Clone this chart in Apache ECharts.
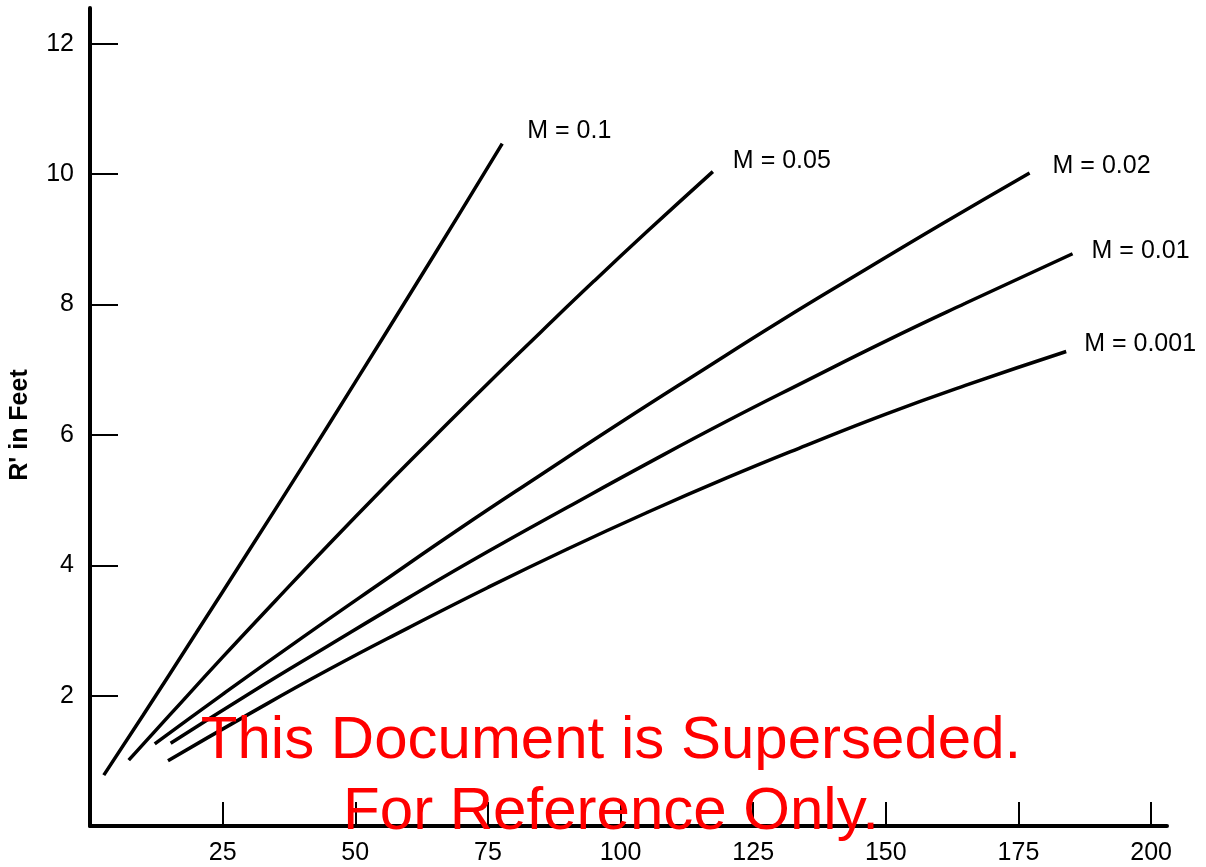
<!DOCTYPE html>
<html>
<head>
<meta charset="utf-8">
<script src="https://cdn.jsdelivr.net/npm/echarts@6/dist/echarts.min.js"></script>
<style>
  html, body { margin: 0; padding: 0; background: #fff; }
  #chart { width: 1206px; height: 867px; }
</style>
</head>
<body>
<div id="chart"></div>
<script>
// distance (x) vs R' in feet, one curve per M value
const m0_1 = [[2.6, 0.78], [10, 1.70], [20, 2.96], [30, 4.23], [40, 5.51], [50, 6.81], [60, 8.12], [70, 9.44], [77.7, 10.47]];
const m0_05 = [[7.3, 1.01], [15, 1.70], [25, 2.59], [35, 3.46], [45, 4.32], [55, 5.16], [65, 5.98], [75, 6.79], [85, 7.58], [95, 8.36], [105, 9.12], [117.4, 10.04]];
const m0_02 = [[12.2, 1.26], [25, 2.02], [40, 2.89], [55, 3.74], [70, 4.58], [85, 5.39], [100, 6.19], [115, 6.97], [130, 7.74], [145, 8.48], [160, 9.21], [177.1, 10.02]];
const m0_01 = [[15.2, 1.27], [30, 2.03], [45, 2.77], [60, 3.50], [75, 4.21], [90, 4.89], [105, 5.56], [120, 6.21], [135, 6.83], [150, 7.44], [165, 8.02], [185.2, 8.78]];
const m0_001 = [[14.7, 1.0], [30, 1.72], [45, 2.40], [60, 3.04], [75, 3.66], [90, 4.25], [105, 4.81], [120, 5.34], [135, 5.84], [150, 6.32], [165, 6.76], [184, 7.28]];

const curveNames = ['M = 0.1', 'M = 0.05', 'M = 0.02', 'M = 0.01', 'M = 0.001'];
const xTicks = [25, 50, 75, 100, 125, 150, 175, 200];
const yTicks = [2, 4, 6, 8, 10, 12];

const FONT = "'Liberation Sans', Arial, Helvetica, sans-serif";

// where each label sits relative to the end of its curve
const labelOffsets = [[25, -12], [20, -10], [23, -7], [19, -3], [18, -7]];

const curves = [m0_1, m0_05, m0_02, m0_01, m0_001];

const chart = echarts.init(document.getElementById('chart'));

chart.setOption({
  animation: false,
  backgroundColor: '#fff',
  grid: { left: 89, right: 39, top: 8, bottom: 41 },
  xAxis: {
    type: 'value',
    min: 0,
    max: 203,
    interval: 25,
    axisLine: { show: true, lineStyle: { color: '#000', width: 4 } },
    axisTick: { show: true, inside: true, length: 24, customValues: xTicks, lineStyle: { color: '#000', width: 2 } },
    axisLabel: { customValues: xTicks, color: '#000', fontSize: 25, fontFamily: FONT, margin: 15 },
    splitLine: { show: false }
  },
  yAxis: {
    type: 'value',
    min: 0,
    max: 12.55,
    interval: 2,
    name: "R' in Feet",
    nameLocation: 'middle',
    nameGap: 57,
    nameTextStyle: { color: '#000', fontSize: 25, fontWeight: 'bold', fontFamily: FONT, padding: [0, 16, 0, 0] },
    axisLine: { show: true, lineStyle: { color: '#000', width: 4 } },
    axisTick: { show: true, inside: true, length: 28, customValues: yTicks, lineStyle: { color: '#000', width: 2 } },
    axisLabel: { customValues: yTicks, color: '#000', fontSize: 25, fontFamily: FONT, margin: 16 },
    splitLine: { show: false }
  },
  series: curves.map(function (data, i) {
    return {
      name: curveNames[i],
      type: 'line',
      data: data,
      smooth: true,
      showSymbol: false,
      lineStyle: { color: '#000', width: 3.5 },
      endLabel: {
        show: true,
        formatter: curveNames[i],
        color: '#000',
        fontSize: 25,
        fontFamily: FONT,
        distance: 0,
        offset: labelOffsets[i]
      }
    };
  }),
  graphic: [
    {
      type: 'text',
      z: 100,
      style: { text: 'This Document is Superseded.', x: 611, y: 741, textAlign: 'center', textVerticalAlign: 'middle', fill: '#ff0000', font: '60px ' + FONT }
    },
    {
      type: 'text',
      z: 100,
      style: { text: 'For Reference Only.', x: 611, y: 812, textAlign: 'center', textVerticalAlign: 'middle', fill: '#ff0000', font: '60px ' + FONT }
    }
  ]
});

window.addEventListener('resize', function () {
  chart.resize();
});
</script>
</body>
</html>
